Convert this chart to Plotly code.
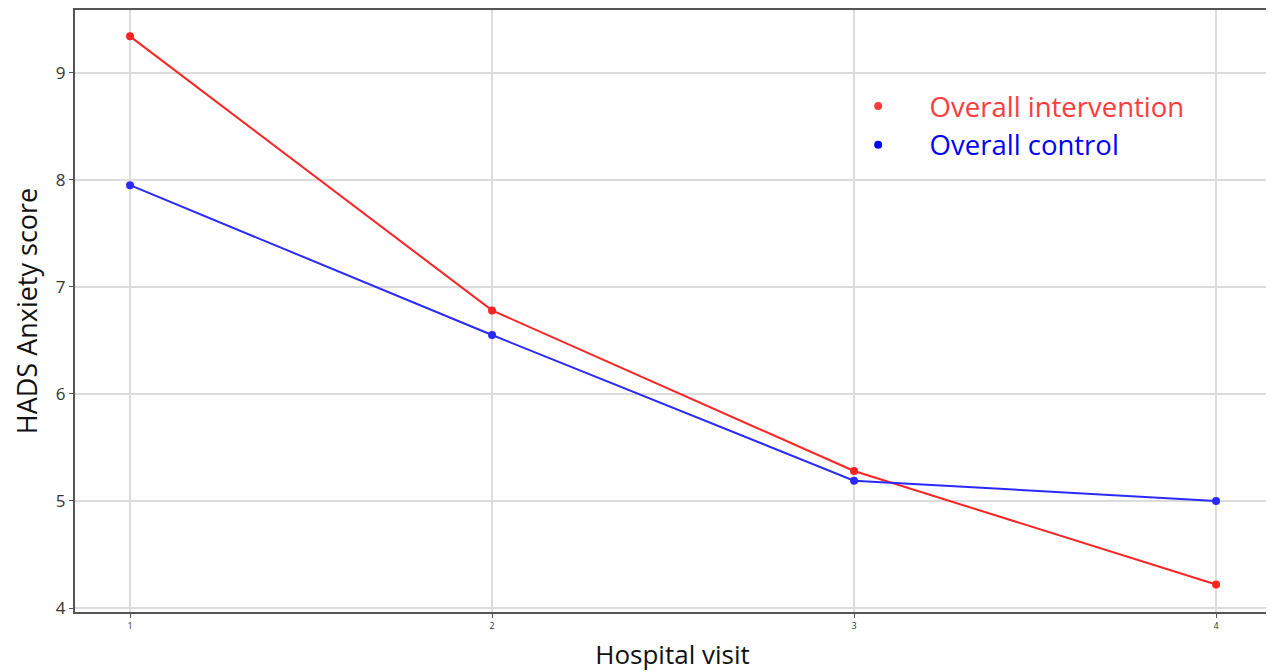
import plotly.graph_objects as go

visits = [1, 2, 3, 4]
intervention = [9.34, 6.78, 5.28, 4.22]
control = [7.95, 6.55, 5.19, 5.00]
x_ticks = [1, 2, 3, 4]
y_ticks = [4, 5, 6, 7, 8, 9]

RED = "#ff2424"
BLUE = "#2a2aff"

fig = go.Figure()
fig.add_trace(go.Scatter(x=visits, y=intervention, mode="lines+markers",
                         line=dict(color=RED, width=2), marker=dict(color=RED, size=8),
                         showlegend=False))
fig.add_trace(go.Scatter(x=visits, y=control, mode="lines+markers",
                         line=dict(color=BLUE, width=2), marker=dict(color=BLUE, size=8),
                         showlegend=False))
# legend-only entries (dots)
fig.add_trace(go.Scatter(x=[None], y=[None], mode="markers", marker=dict(color="#ff3b3b", size=8),
                         name="<span style='color:#ff3b3b'>&nbsp;&nbsp;&nbsp;Overall intervention</span>"))
fig.add_trace(go.Scatter(x=[None], y=[None], mode="markers", marker=dict(color="#0000ff", size=8),
                         name="<span style='color:#0000ff'>&nbsp;&nbsp;&nbsp;Overall control</span>"))

# page body has an 8px margin, so the figure is sized/margined to compensate
fig.update_layout(
    width=1266, height=664,
    margin=dict(l=67, r=4, t=0, b=60),
    paper_bgcolor="white", plot_bgcolor="white",
    font=dict(family="Open Sans", color="#222"),
    legend=dict(x=0.647, y=0.881, xanchor="left", yanchor="top",
                bgcolor="rgba(0,0,0,0)", font=dict(size=27.5, family="Open Sans"),
                itemwidth=50, tracegroupgap=0),
    xaxis=dict(range=[0.848, 4.149], tickvals=x_ticks, ticktext=[str(v) for v in x_ticks],
               showgrid=True, gridcolor="#dcdcdc", gridwidth=2,
               showline=True, linecolor="#555", linewidth=2, mirror=True,
               ticks="outside", ticklen=4, tickcolor="#555",
               tickfont=dict(size=9, color="#333"), zeroline=False,
               title=dict(text="Hospital visit", font=dict(size=26, color="#111"), standoff=18)),
    yaxis=dict(range=[3.963, 9.586], tickvals=y_ticks,
               showgrid=True, gridcolor="#dcdcdc", gridwidth=2,
               showline=True, linecolor="#555", linewidth=2, mirror=True,
               ticks="outside", ticklen=4, tickcolor="#555",
               tickfont=dict(size=17, color="#333"), zeroline=False,
               title=dict(text="HADS Anxiety score", font=dict(size=27, color="#111"), standoff=12)),
)

fig.write_html("out.html")
